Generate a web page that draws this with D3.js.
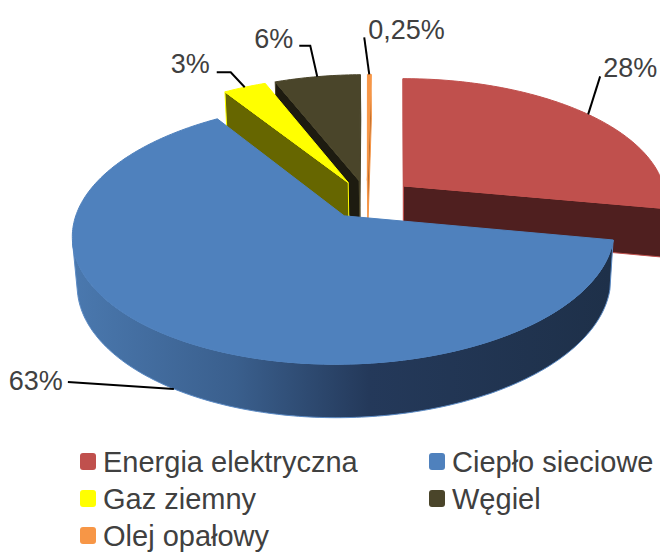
<!DOCTYPE html>
<html lang="pl">
<head>
<meta charset="UTF-8">
<title>Struktura zużycia energii</title>
<script src="https://cdn.jsdelivr.net/npm/d3@7"></script>
<style>
body { margin: 0; background: #fff; }
text { font-family: "Liberation Sans", Arial, sans-serif; fill: #404040; }
.leader { stroke: #000; stroke-width: 2; fill: none; }
</style>
</head>
<body>
<svg width="660" height="552"></svg>
<script>
// data
const categories = ["Energia elektryczna", "Ciepło sieciowe", "Gaz ziemny", "Węgiel", "Olej opałowy"];
const values = [28, 63, 3, 6, 0.25];
const labels = ["28%", "63%", "3%", "6%", "0,25%"];

// styles
const topColors = ["#C0504D", "#4F81BD", "#FFFF00", "#4A452A", "#F79646"];
const faceColors = ["#4F1F1F", "#1F3550", "#666600", "#1D1B10", "#b86a2c"];
const explode = [0.18, 0.15, 0.16, 0.16, 0.16];

var svg = d3.select("svg");

// fake 3d camera
var R = 264, cx = 367, cy = 200, vx = 400,
    sinA = 0.472, cosA = Math.sqrt(1 - sinA * sinA),
    persp = 0.13, H = 0.21;
var camZ = -(cosA / persp) * cosA,
    camX = (vx - cx) / R;

var r = d3.scaleLinear().domain([0, 1]).range([0, R]);

function project(x, y, z) {
  var f = 1 / (1 + persp * (z - y * sinA / cosA));
  return [vx + (cx + r(x) - vx) * f, cy - r(z * sinA + y * cosA) * f];
}

var pie = d3.pie().sort(null).value(function(d) { return d; });
var arcs = pie(values);

arcs.forEach(function(d, i) {
  var mid = (d.startAngle + d.endAngle) / 2;
  d.i = i;
  d.ox = explode[i] * Math.sin(mid);
  d.oz = explode[i] * Math.cos(mid);
  d.mid = mid;
});

function rim(d, t, y) {
  return project(d.ox + Math.sin(t), y, d.oz + Math.cos(t));
}
function angles(a0, a1) {
  var n = Math.max(2, Math.ceil((a1 - a0) / (Math.PI / 180)));
  return d3.range(n + 1).map(function(j) { return a0 + (a1 - a0) * j / n; });
}

var line = d3.line();

var defs = svg.append("defs");
var grad = defs.append("linearGradient")
    .attr("id", "blueSide")
    .attr("gradientUnits", "userSpaceOnUse")
    .attr("x1", 75).attr("x2", 610).attr("y1", 0).attr("y2", 0);
grad.append("stop").attr("offset", "0").attr("stop-color", "#4a78ae");
grad.append("stop").attr("offset", "0.3").attr("stop-color", "#3a5f8d");
grad.append("stop").attr("offset", "0.55").attr("stop-color", "#24395a");
grad.append("stop").attr("offset", "1").attr("stop-color", "#1e3049");

function sideFill(i) {
  return i == 1 ? "url(#blueSide)" : faceColors[i];
}

var order = arcs.slice().sort(function(a, b) {
  return (b.oz + 0.5 * Math.cos(b.mid)) - (a.oz + 0.5 * Math.cos(a.mid));
});

var g = svg.append("g");

order.forEach(function(d) {
  var i = d.i;
  var apexTop = project(d.ox, 0, d.oz), apexBot = project(d.ox, -H, d.oz);
  var dx = camX - d.ox, dz = camZ - d.oz;

  // radial faces
  var n0 = [-Math.cos(d.startAngle), Math.sin(d.startAngle)];
  if (n0[0] * dx + n0[1] * dz > 0) {
    g.append("path")
      .attr("d", line([apexTop, rim(d, d.startAngle, 0), rim(d, d.startAngle, -H), apexBot]) + "Z")
      .attr("fill", faceColors[i])
      .attr("stroke", topColors[i]).attr("stroke-width", 1);
  }
  var n1 = [Math.cos(d.endAngle), -Math.sin(d.endAngle)];
  if (n1[0] * dx + n1[1] * dz > 0) {
    g.append("path")
      .attr("d", line([apexTop, rim(d, d.endAngle, 0), rim(d, d.endAngle, -H), apexBot]) + "Z")
      .attr("fill", faceColors[i])
      .attr("stroke", topColors[i]).attr("stroke-width", 1);
  }

  // outer wall, only the part facing the camera
  var ts = angles(d.startAngle, d.endAngle).filter(function(t) {
    var px = d.ox + Math.sin(t), pz = d.oz + Math.cos(t);
    return Math.sin(t) * (camX - px) + Math.cos(t) * (camZ - pz) > 0;
  });
  if (ts.length > 1) {
    var pts = ts.map(function(t) { return rim(d, t, 0); })
      .concat(ts.slice().reverse().map(function(t) { return rim(d, t, -H); }));
    g.append("path")
      .attr("d", line(pts) + "Z")
      .attr("fill", sideFill(i))
      .attr("stroke", i == 1 ? "#5b8ac4" : topColors[i]).attr("stroke-width", 1);
  }

  // top
  var topPts = [apexTop].concat(angles(d.startAngle, d.endAngle).map(function(t) { return rim(d, t, 0); }));
  g.append("path")
    .attr("d", line(topPts) + "Z")
    .attr("fill", topColors[i])
    .attr("stroke", topColors[i]).attr("stroke-width", 1)
    .attr("stroke-linejoin", "round");
});

// data labels with leader lines (offsets from the anchor point)
var leaders = [
  { pts: [[12, -38]], text: [15, -37], anchor: "start" },
  { pts: [[-106, -7]], text: [-111, 1], anchor: "end" },
  { pts: [[-14, -15], [-28, -15]], text: [-35, -14], anchor: "end" },
  { pts: [[-7, -31], [-18, -31]], text: [-24, -29], anchor: "end" },
  { pts: [[-5, -37]], text: [-1, -35], anchor: "start" }
];

arcs.forEach(function(d, i) {
  var front = Math.cos(d.mid) < 0;
  var a = rim(d, d.mid, front ? -H : 0);
  var L = leaders[i];
  var pts = [a].concat(L.pts.map(function(p) { return [a[0] + p[0], a[1] + p[1]]; }));
  svg.append("path").attr("class", "leader").attr("d", line(pts));
  svg.append("text")
    .attr("x", a[0] + L.text[0])
    .attr("y", a[1] + L.text[1])
    .attr("text-anchor", L.anchor)
    .style("font-size", "27px")
    .text(labels[i]);
});

// legend
var legendPos = [[80, 472], [429, 472], [80, 509], [429, 509], [80, 546]];
var legend = svg.append("g").selectAll("g")
  .data(categories)
  .enter().append("g")
  .attr("transform", function(d, i) { return "translate(" + legendPos[i][0] + "," + legendPos[i][1] + ")"; });

legend.append("rect")
  .attr("x", 0).attr("y", -19)
  .attr("width", 16).attr("height", 17)
  .attr("rx", 3)
  .attr("fill", function(d, i) { return topColors[i]; });

legend.append("text")
  .attr("x", 23).attr("y", 0)
  .style("font-size", "29px")
  .text(function(d) { return d; });
</script>
</body>
</html>
